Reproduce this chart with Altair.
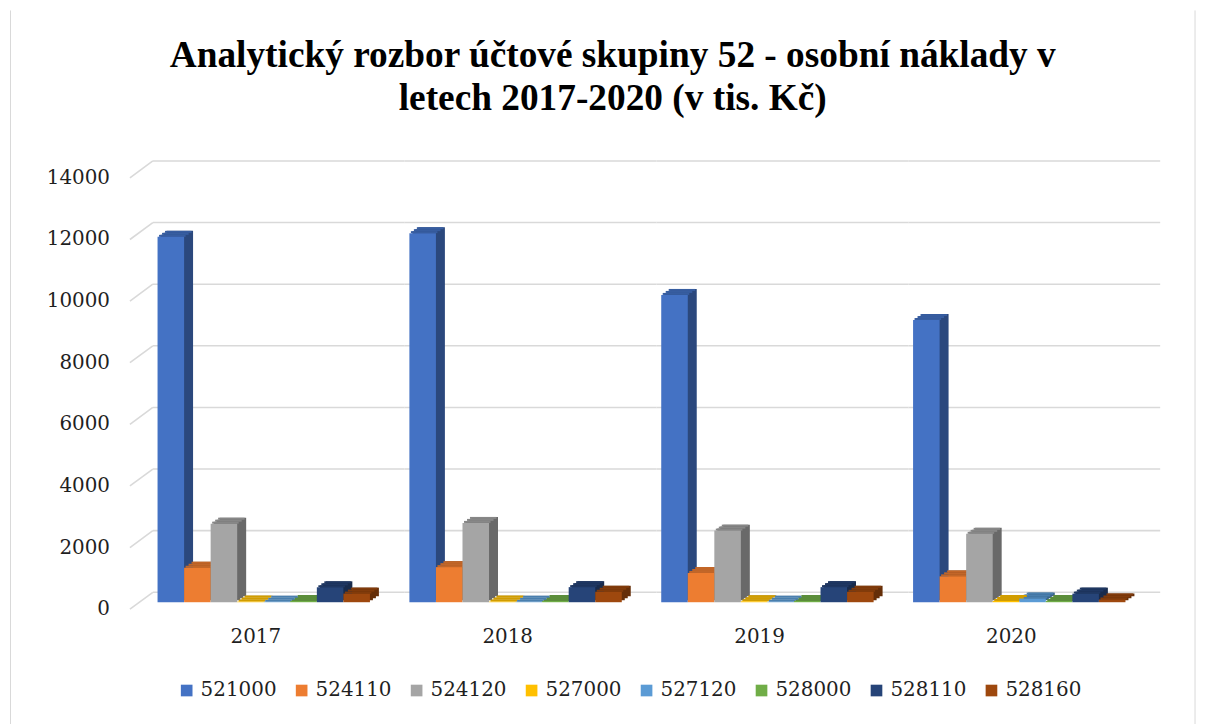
import altair as alt
import pandas as pd

# ---------------- data ----------------
years = ["2017", "2018", "2019", "2020"]
series = ["521000", "524110", "524120", "527000", "527120", "528000", "528110", "528160"]
values_2017 = [11860, 1120, 2550, 20, 15, 40, 485, 280]
values_2018 = [11980, 1140, 2575, 20, 15, 40, 490, 340]
values_2019 = [9975, 950, 2325, 30, 15, 40, 490, 340]
values_2020 = [9160, 840, 2220, 40, 120, 40, 280, 90]
y_ticks = [0, 2000, 4000, 6000, 8000, 10000, 12000, 14000]
title_lines = ["Analytický rozbor účtové skupiny 52 - osobní náklady v",
               "letech 2017-2020 (v tis. Kč)"]

front_colors = ["#4472C4", "#ED7D31", "#A5A5A5", "#FFC000",
                "#5B9BD5", "#70AD47", "#264478", "#9E480E"]


def shade(hex_color, f):
    h = hex_color.lstrip("#")
    r, g, b = (int(h[i:i + 2], 16) for i in (0, 2, 4))
    return "#{:02X}{:02X}{:02X}".format(int(r * f), int(g * f), int(b * f))


top_colors = [shade(c, 0.82) for c in front_colors]
side_colors = [shade(c, 0.64) for c in front_colors]

records = []
for yr, vals in zip(years, [values_2017, values_2018, values_2019, values_2020]):
    for s, v in zip(series, vals):
        records.append({"year": yr, "series": s, "value": v})
bars_df = pd.DataFrame(records)
ticks_df = pd.DataFrame({"tick": y_ticks})
years_df = pd.DataFrame({"year": years})
frame_df = pd.DataFrame({"edge": [0]})

# ---------------- style ----------------
TITLE_FONT = "Liberation Serif"
LABEL_FONT = "DejaVu Serif"
LABEL_SIZE = 20
TEXT = "#1f1f1f"
GRID = "#D9D9D9"
PANEL_W, PANEL_H = 253, 433.3
DEPTH_X = 23          # back wall shift (x)
BACK_DY = -10         # back wall relative to bar base plane
FRONT_DY = 7          # front edge relative to bar base plane
BOX_DX, BOX_DY = 9, 6  # bar depth
STEPS = 3

y_scale = alt.Scale(domain=[0, 14000], nice=False, zero=True)
x_scale = alt.Scale(domain=series, paddingInner=0, paddingOuter=0.743, align=0.7)


def panel(i, yr):
    first = i == 0
    base = alt.Chart(bars_df).transform_filter(alt.datum.year == yr)

    def X():
        return alt.X("series:N", sort=series, scale=x_scale, axis=None)

    def Y():
        return alt.Y("value:Q", scale=y_scale, axis=None, stack=None)

    layers = []
    # back-wall gridlines
    layers.append(
        alt.Chart(ticks_df).mark_rule(color=GRID, strokeWidth=1.6, yOffset=BACK_DY).encode(
            x=alt.value(DEPTH_X), x2=alt.value(PANEL_W + DEPTH_X),
            y=alt.Y("tick:Q", scale=y_scale, axis=None))
    )
    if first:
        # side-wall diagonals
        layers.append(
            alt.Chart(ticks_df).mark_rule(color=GRID, strokeWidth=1.6, yOffset=FRONT_DY,
                                          y2Offset=BACK_DY).encode(
                x=alt.value(0), x2=alt.value(DEPTH_X),
                y=alt.Y("tick:Q", scale=y_scale, axis=None), y2=alt.Y2("tick:Q"))
        )
        # value labels of the vertical axis
        layers.append(
            alt.Chart(ticks_df).mark_text(align="right", baseline="middle", font=LABEL_FONT,
                                          fontSize=LABEL_SIZE, color=TEXT, dx=-20,
                                          dy=FRONT_DY).encode(
                x=alt.value(0), y=alt.Y("tick:Q", scale=y_scale, axis=None),
                text=alt.Text("tick:Q", format="d"))
        )
        # chart-area frame
        for bx in [-120, 1070]:
            layers.append(
                alt.Chart(frame_df).mark_rule(color=GRID, strokeWidth=1).encode(
                    x=alt.value(bx), y=alt.value(-161.2), y2=alt.value(560))
            )
    # category label
    layers.append(
        alt.Chart(years_df).transform_filter(alt.datum.year == yr).mark_text(
            align="center", baseline="middle", font=LABEL_FONT, fontSize=LABEL_SIZE,
            color=TEXT, dy=35).encode(x=alt.value(PANEL_W / 2), y=alt.value(PANEL_H),
                                      text="year:N")
    )
    # side faces (stepped parallelogram)
    for k in range(1, STEPS + 1):
        dx = BOX_DX * k / STEPS
        dy = BOX_DY * k / STEPS
        layers.append(
            base.mark_bar(xOffset=dx, yOffset=-dy, y2Offset=-dy).encode(
                x=X(), y=Y(), y2=alt.Y2Datum(0),
                fill=alt.Fill("series:N", sort=series,
                              scale=alt.Scale(domain=series, range=side_colors), legend=None))
        )
    # top faces (stepped parallelogram)
    for k in range(STEPS):
        layers.append(
            base.mark_bar(xOffset=BOX_DX * (k + 0.5) / STEPS,
                          yOffset=-BOX_DY * (k + 1) / STEPS,
                          y2Offset=-BOX_DY * k / STEPS).encode(
                x=X(), y=Y(), y2=alt.Y2("value:Q"),
                fill=alt.Fill("series:N", sort=series,
                              scale=alt.Scale(domain=series, range=top_colors), legend=None))
        )
    # front faces
    layers.append(
        base.mark_bar().encode(
            x=X(), y=Y(),
            color=alt.Color("series:N", sort=series,
                            scale=alt.Scale(domain=series, range=front_colors),
                            legend=alt.Legend(orient="none", legendX=47, legendY=512,
                                              direction="horizontal", columns=8, title=None)))
    )
    return alt.layer(*layers).resolve_scale(fill="independent").properties(
        width=PANEL_W, height=PANEL_H)


chart = alt.hconcat(*[panel(i, yr) for i, yr in enumerate(years)], spacing=0, bounds="flush")
chart = chart.resolve_scale(x="independent", y="independent", color="shared").properties(
    title=alt.TitleParams(text=title_lines, font=TITLE_FONT, fontSize=37.5, fontWeight="bold",
                          color="black", lineHeight=43, anchor="middle", frame="bounds",
                          offset=-108, dx=10),
    padding={"left": 1.5, "top": 0, "right": 5, "bottom": 0},
).configure_view(stroke=None).configure_legend(
    symbolType="square", symbolSize=137, symbolStrokeWidth=0,
    labelFont=LABEL_FONT, labelFontSize=LABEL_SIZE, labelColor=TEXT,
    labelOffset=4, columnPadding=14.5, padding=0,
)

chart.save("out.html", embed_options={"renderer": "svg", "actions": False})
